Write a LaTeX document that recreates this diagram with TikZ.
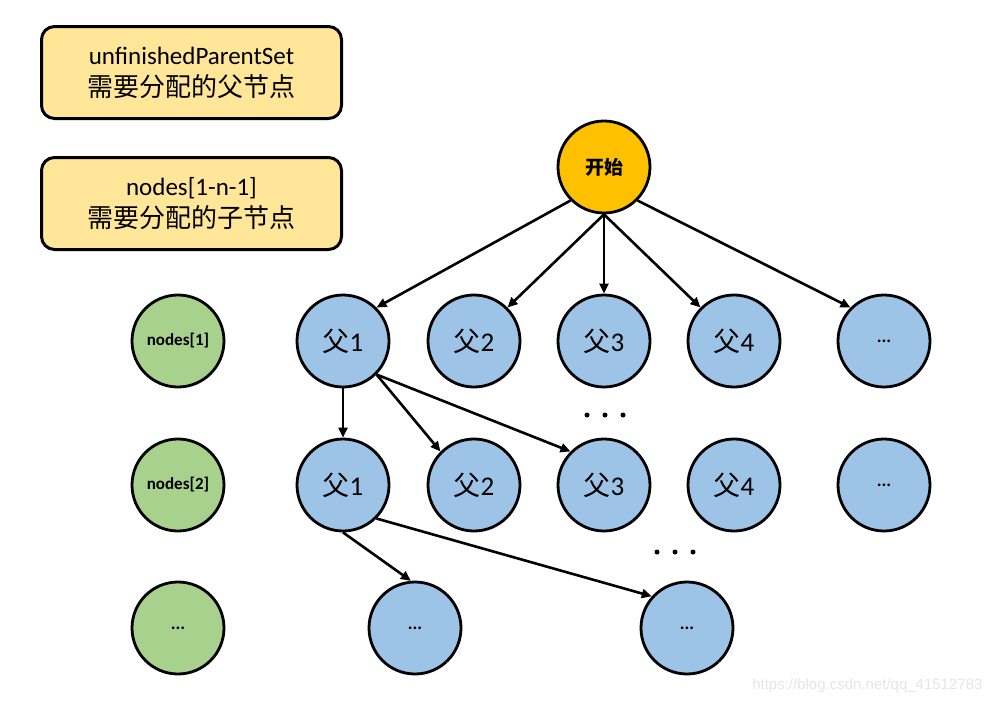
\documentclass[tikz,border=0pt]{standalone}
\usepackage{fontspec}
\setmainfont{Carlito}
\newfontfamily\cjk{Noto Sans CJK SC}
\newfontfamily\wmfont{Liberation Sans}
\usetikzlibrary{arrows.meta}
\definecolor{boxyellow}{HTML}{FFE699}
\definecolor{nodeblue}{HTML}{9DC3E6}
\definecolor{nodegreen}{HTML}{A9D18E}
\definecolor{startorange}{HTML}{FFC000}
\tikzset{
  infobox/.style={draw=black, line width=3pt, rounded corners=13pt, fill=boxyellow,
    minimum width=300pt, minimum height=92pt, align=center, inner sep=0pt,
    font=\fontsize{25}{32}\selectfont},
  circ/.style={circle, draw=black, line width=2.8pt, minimum size=92pt, inner sep=0pt},
  parent/.style={circ, fill=nodeblue, font=\fontsize{27}{29}\selectfont},
  level/.style={circ, fill=nodegreen, font=\bfseries\fontsize{17}{19}\selectfont},
  startnode/.style={circ, fill=startorange, font=\bfseries\fontsize{19}{21}\selectfont},
  conn/.style={line width=2.6pt, -{Triangle[length=10pt,width=9pt]}},
  dotmark/.style={circle, fill=black, inner sep=0pt, minimum size=5pt},
  ellip/.style={font=\bfseries\fontsize{18}{19}\selectfont},
}
\begin{document}
\begin{tikzpicture}[x=1pt,y=-1pt]
\useasboundingbox (0,0) rectangle (994,705);
% info boxes
\node[infobox] (b1) at (191.5,72.5) {unfinishedParentSet\\{\cjk\fontsize{26}{32}\selectfont 需要分配的父节点}};
\node[infobox] (b2) at (191.5,203.5) {nodes[1-n-1]\\{\cjk\fontsize{26}{32}\selectfont 需要分配的子节点}};
% start
\node[startnode] (s) at (604,167) {\cjk\bfseries 开始};
% row 1
\node[level] (g1) at (178,341) {nodes[1]};
\node[parent] (a1) at (343,341) {{\cjk 父}1};
\node[parent] (a2) at (474,341) {{\cjk 父}2};
\node[parent] (a3) at (604,341) {{\cjk 父}3};
\node[parent] (a4) at (734,341) {{\cjk 父}4};
\node[parent, ellip] (a5) at (884,341) {...};
% row 2
\node[level] (g2) at (178,485) {nodes[2]};
\node[parent] (c1) at (343,485) {{\cjk 父}1};
\node[parent] (c2) at (474,485) {{\cjk 父}2};
\node[parent] (c3) at (604,485) {{\cjk 父}3};
\node[parent] (c4) at (734,485) {{\cjk 父}4};
\node[parent, ellip] (c5) at (884,485) {...};
% row 3
\node[level, ellip] (g3) at (178,628) {...};
\node[parent, ellip] (d1) at (415,628) {...};
\node[parent, ellip] (d2) at (687,628) {...};
% ellipsis dots
\node[dotmark] (e1) at (587,415) {};
\node[dotmark] (e2) at (605,415) {};
\node[dotmark] (e3) at (623,415) {};
\node[dotmark] (f1) at (657,552) {};
\node[dotmark] (f2) at (675,552) {};
\node[dotmark] (f3) at (693,552) {};
% connectors
\draw[conn] (s.-135) -- (a1.45);
\draw[conn] (s.south) -- (a2.45);
\draw[conn] (s.south) -- (a3.north);
\draw[conn] (s.south) -- (a4.135);
\draw[conn] (s.-45) -- (a5.135);
\draw[conn] (a1.south) -- (c1.north);
\draw[conn] (a1.-45) -- (c2.135);
\draw[conn] (a1.-45) -- (c3.135);
\draw[conn] (c1.south) -- (d1.95);
\draw[conn] (c1.-45) -- (d2.138);
% watermark
\node[font=\wmfont\fontsize{15}{16}\selectfont, text=black!10, anchor=east] (wm) at (986,686) {https://blog.csdn.net/qq\_41512783};
\end{tikzpicture}
\end{document}
